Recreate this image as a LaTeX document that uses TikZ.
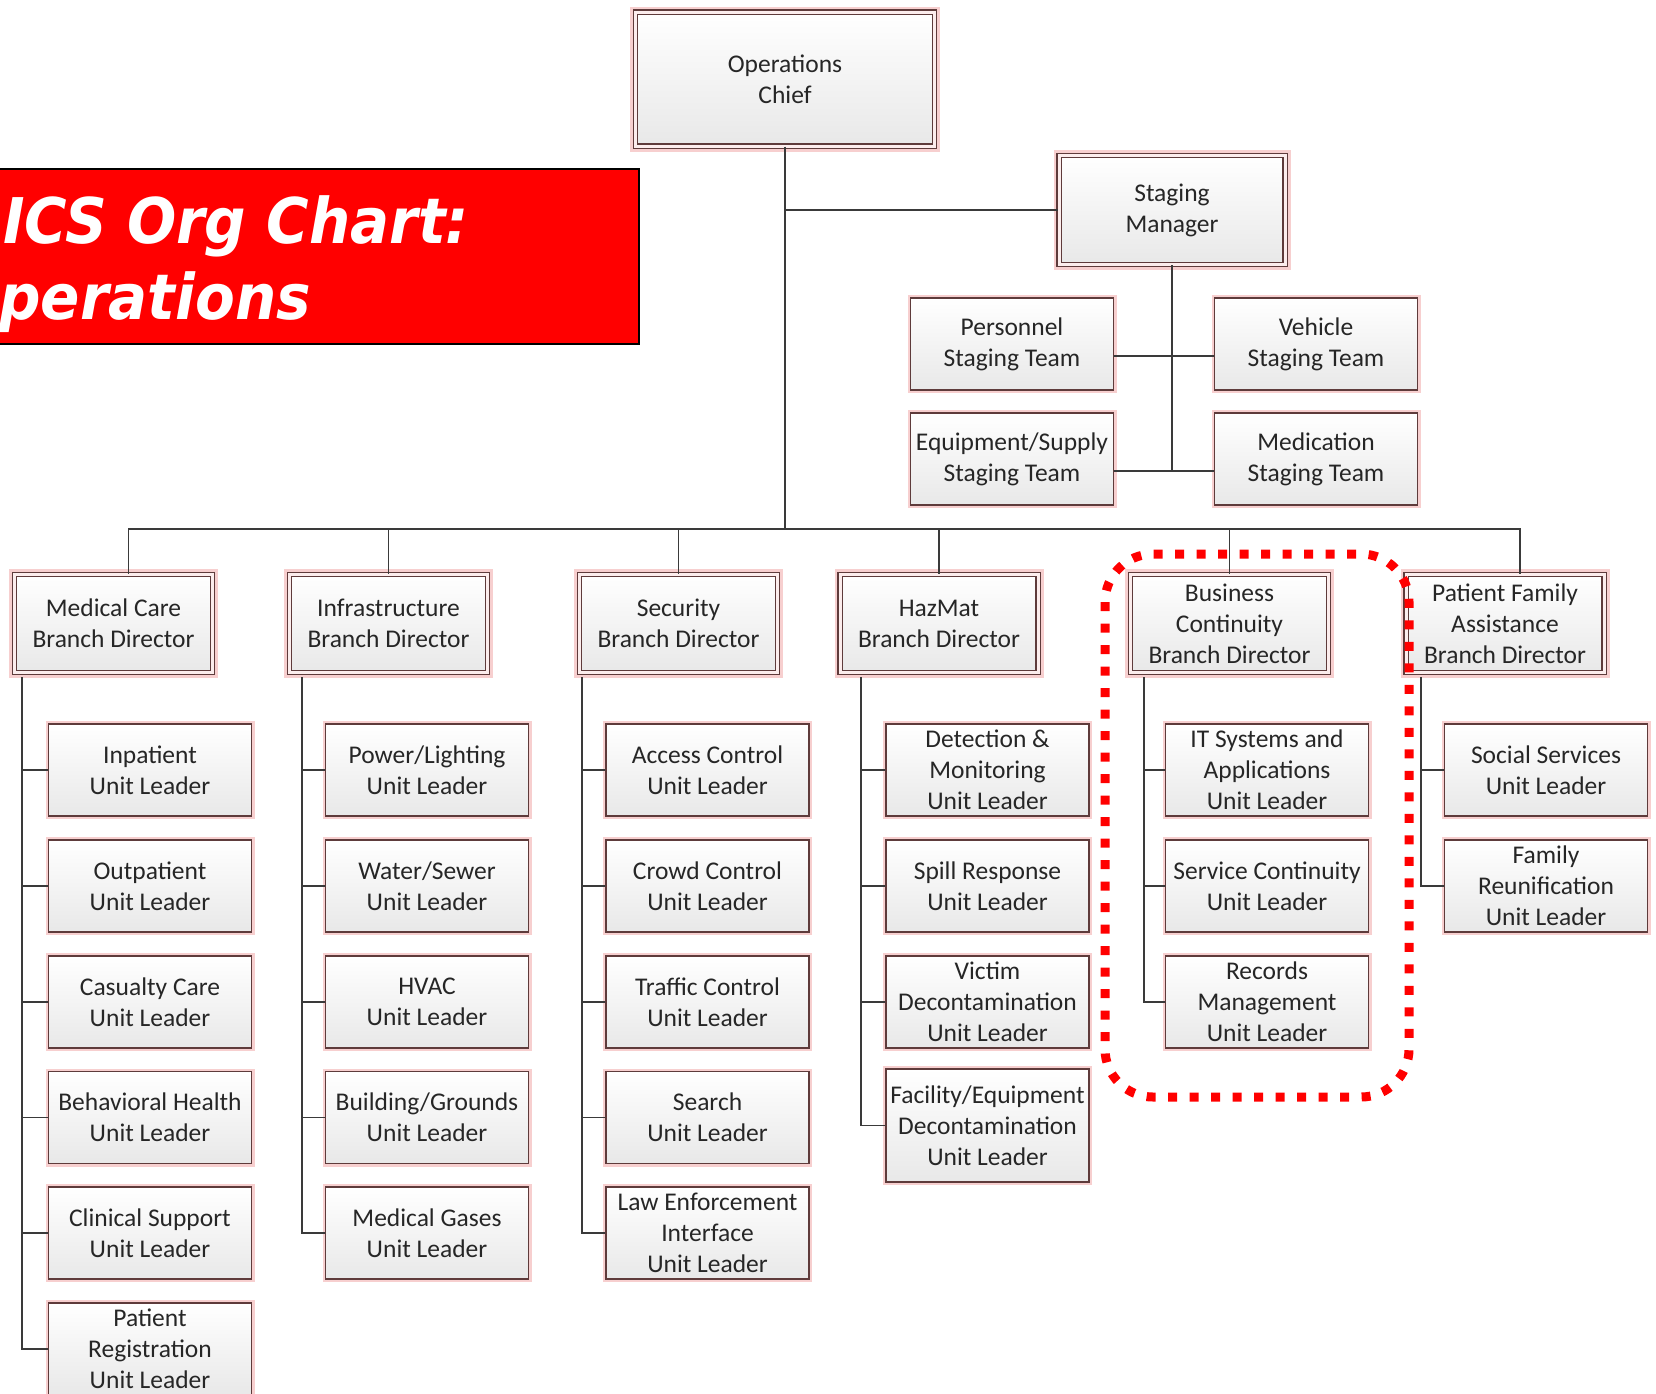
\documentclass[tikz,border=0pt]{standalone}
\usepackage{fontspec}
\setmainfont{Carlito}
\newfontfamily\titlefont[FakeStretch=0.92]{DejaVu Sans}
\definecolor{boxedge}{HTML}{5E3B3B}
\definecolor{boxglow}{HTML}{F7CFCF}
\definecolor{boxring}{HTML}{FCEDED}
\definecolor{linkgray}{HTML}{3A3A3A}
\tikzset{
	unit/.style={draw=boxedge, line width=1.3pt, top color=white, bottom color=black!9,
		minimum width=203pt, minimum height=92pt, inner sep=0pt, align=center,
		text=black!85, font=\fontsize{25.5}{31}\selectfont,
		preaction={draw=boxglow, line width=6pt}},
	chief/.style={unit, line width=1.2pt, double=boxring, double distance=3pt,
		minimum width=198pt, minimum height=98pt, preaction={draw=boxglow, line width=11pt}},
	link/.style={draw=linkgray, line width=1.8pt},
	headline/.style={anchor=base west, inner sep=0pt, text=white,
		font=\titlefont\bfseries\itshape\fontsize{63}{70}\selectfont},
}
\begin{document}
\begin{tikzpicture}[x=1pt,y=-1pt]
	\useasboundingbox (0,0) rectangle (1656,1393);
	%TITLE
	\draw[fill=red, draw=black, line width=2.5pt] (-10,169) rectangle (639,344);
	\node[headline] (head1) at (3,243) {ICS Org Chart:};
	\node[headline] (head2) at (-50,319) {Operations};
	%TOP
	\node[chief, minimum width=299pt, minimum height=134pt] (ops) at (785,79) {Operations\\Chief};
	\node[chief, minimum width=226pt, minimum height=109pt] (stag) at (1172,210) {Staging\\Manager};
	\node[unit] (pers) at (1012,344) {Personnel\\Staging Team};
	\node[unit] (vehi) at (1316,344) {Vehicle\\Staging Team};
	\node[unit] (equi) at (1012,459) {Equipment/Supply\\Staging Team};
	\node[unit] (medi) at (1316,459) {Medication\\Staging Team};
	\coordinate (hub) at (785,529);
	\draw[link] (ops.south) -- (hub);
	\draw[link] (ops.south |- stag.west) -- (stag.west);
	\draw[link] (stag.south) -- ([yshift=-12pt]stag.south |- medi.west);
	\draw[link] ([yshift=-12pt]pers.east) -- ([yshift=-12pt]vehi.west);
	\draw[link] ([yshift=-12pt]equi.east) -- ([yshift=-12pt]medi.west);
	%BRANCHES
	\node[chief] (med) at (113.5,623.5) {Medical Care\\Branch Director};
	\node[chief] (infra) at (388.5,623.5) {Infrastructure\\Branch Director};
	\node[chief] (sec) at (678.5,623.5) {Security\\Branch Director};
	\node[chief] (haz) at (939,623.5) {HazMat\\Branch Director};
	\node[chief] (bus) at (1229.5,623.5) {Business\\Continuity\\Branch Director};
	\node[chief] (pfa) at (1505,623.5) {Patient Family\\Assistance\\Branch Director};
	\draw[link] (hub) -| ([xshift=15pt]med.north);
	\draw[link] (hub) -| (infra.north);
	\draw[link] (hub) -| (sec.north);
	\draw[link] (hub) -| (haz.north);
	\draw[link] (hub) -| (bus.north);
	\draw[link] (hub) -| ([xshift=15pt]pfa.north);
	%MEDICAL CARE
	\node[unit] (med1) at (150,770) {Inpatient\\Unit Leader};
	\node[unit] (med2) at (150,886) {Outpatient\\Unit Leader};
	\node[unit] (med3) at (150,1002) {Casualty Care\\Unit Leader};
	\node[unit] (med4) at (150,1117.5) {Behavioral Health\\Unit Leader};
	\node[unit] (med5) at (150,1233) {Clinical Support\\Unit Leader};
	\node[unit] (med6) at (150,1349) {Patient\\Registration\\Unit Leader};
	\draw[link] (22,677) |- (med1.west) (22,677) |- (med2.west) (22,677) |- (med3.west)
		(22,677) |- (med4.west) (22,677) |- (med5.west) (22,677) |- (med6.west);
	%INFRASTRUCTURE
	\node[unit] (inf1) at (427,770) {Power/Lighting\\Unit Leader};
	\node[unit] (inf2) at (427,886) {Water/Sewer\\Unit Leader};
	\node[unit] (inf3) at (427,1002) {HVAC\\Unit Leader};
	\node[unit] (inf4) at (427,1117.5) {Building/Grounds\\Unit Leader};
	\node[unit] (inf5) at (427,1233) {Medical Gases\\Unit Leader};
	\draw[link] (302,677) |- (inf1.west) (302,677) |- (inf2.west) (302,677) |- (inf3.west)
		(302,677) |- (inf4.west) (302,677) |- (inf5.west);
	%SECURITY
	\node[unit] (sec1) at (707.5,770) {Access Control\\Unit Leader};
	\node[unit] (sec2) at (707.5,886) {Crowd Control\\Unit Leader};
	\node[unit] (sec3) at (707.5,1002) {Traffic Control\\Unit Leader};
	\node[unit] (sec4) at (707.5,1117.5) {Search\\Unit Leader};
	\node[unit] (sec5) at (707.5,1233) {Law Enforcement\\Interface\\Unit Leader};
	\draw[link] (582,677) |- (sec1.west) (582,677) |- (sec2.west) (582,677) |- (sec3.west)
		(582,677) |- (sec4.west) (582,677) |- (sec5.west);
	%HAZMAT
	\node[unit] (haz1) at (987.5,770) {Detection \&\\Monitoring\\Unit Leader};
	\node[unit] (haz2) at (987.5,886) {Spill Response\\Unit Leader};
	\node[unit] (haz3) at (987.5,1002) {Victim\\Decontamination\\Unit Leader};
	\node[unit, minimum height=113pt] (haz4) at (987.5,1125.5) {Facility/Equipment\\Decontamination\\Unit Leader};
	\draw[link] (861,677) |- (haz1.west) (861,677) |- (haz2.west) (861,677) |- (haz3.west)
		(861,677) |- (haz4.west);
	%BUSINESS CONTINUITY
	\node[unit] (bus1) at (1267,770) {IT Systems and\\Applications\\Unit Leader};
	\node[unit] (bus2) at (1267,886) {Service Continuity\\Unit Leader};
	\node[unit] (bus3) at (1267,1002) {Records\\Management\\Unit Leader};
	\draw[link] (1144,677) |- (bus1.west) (1144,677) |- (bus2.west) (1144,677) |- (bus3.west);
	%PATIENT FAMILY
	\node[unit] (pfa1) at (1546,770) {Social Services\\Unit Leader};
	\node[unit] (pfa2) at (1546,886) {Family\\Reunification\\Unit Leader};
	\draw[link] (1421,677) |- (pfa1.west) (1421,677) |- (pfa2.west);
	%HIGHLIGHT
	\draw[red, line width=9pt, dash pattern=on 9pt off 12.5pt, rounded corners=48pt]
		(1105,554) rectangle (1409,1097);
\end{tikzpicture}
\end{document}
